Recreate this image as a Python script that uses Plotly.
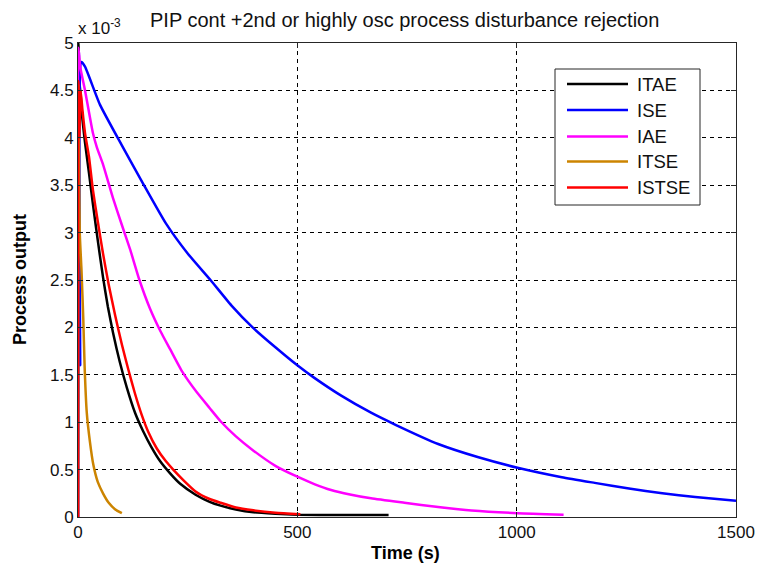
import plotly.graph_objects as go

# ---- data (process output in units of 1e-3) ----
series_names = ["ITAE", "ISE", "IAE", "ITSE", "ISTSE"]
series_colors = ["#000000", "#0000ff", "#ff00ff", "#cc8400", "#ff0000"]

t_itae = [0, 1, 3, 6, 10, 16, 25, 34, 45, 57, 68, 80, 95, 111, 130, 148, 167, 187, 210, 233,
          268, 300, 325, 360, 400, 450, 500, 600, 708]
y_itae = [0, 5.0, 4.6, 4.45, 4.2, 3.95, 3.63, 3.3, 2.92, 2.53, 2.22, 1.94, 1.64, 1.37, 1.1, 0.91,
          0.74, 0.59, 0.46, 0.35, 0.235, 0.16, 0.12, 0.08, 0.05, 0.035, 0.025, 0.02, 0.02]

t_ise = [0, 2, 5, 8, 16, 50, 100, 148, 200, 250, 302, 350, 398, 450, 500, 538, 600, 668, 725,
         821, 913, 1002, 1103, 1178, 1256, 1332, 1407, 1500]
y_ise = [0, 4.9, 1.6, 4.8, 4.75, 4.35, 3.92, 3.52, 3.1, 2.78, 2.5, 2.23, 2.0, 1.79, 1.6, 1.47,
         1.28, 1.1, 0.97, 0.77, 0.63, 0.52, 0.42, 0.36, 0.3, 0.25, 0.21, 0.17]

t_iae = [0, 1, 5, 16, 34, 43, 57, 80, 100, 119, 140, 164, 188, 210, 238, 270, 300, 325, 360,
         400, 450, 500, 540, 577, 620, 668, 744, 821, 897, 1002, 1107]
y_iae = [0, 4.95, 4.75, 4.5, 4.05, 3.9, 3.72, 3.36, 3.08, 2.82, 2.5, 2.2, 1.96, 1.77, 1.53, 1.32,
         1.15, 1.01, 0.85, 0.7, 0.54, 0.425, 0.345, 0.285, 0.238, 0.197, 0.15, 0.105, 0.068,
         0.04, 0.025]

t_itse = [0, 1, 2, 4, 8, 12, 15, 20, 27, 35, 45, 57, 70, 85, 100]
y_itse = [0, 4.55, 4.0, 3.0, 2.6, 2.1, 1.6, 1.1, 0.8, 0.55, 0.37, 0.25, 0.15, 0.08, 0.04]

t_istse = [0, 1, 3, 6, 10, 16, 25, 34, 45, 57, 70, 85, 100, 115, 130, 145, 160, 180, 200, 217,
           240, 268, 300, 325, 360, 400, 450, 507]
y_istse = [0, 4.6, 4.0, 4.5, 4.3, 4.05, 3.8, 3.45, 3.12, 2.78, 2.45, 2.12, 1.82, 1.55, 1.3, 1.08,
           0.9, 0.72, 0.59, 0.5, 0.39, 0.27, 0.19, 0.15, 0.1, 0.07, 0.045, 0.03]

series_t = [t_itae, t_ise, t_iae, t_itse, t_istse]
series_y = [y_itae, y_ise, y_iae, y_itse, y_istse]

x_ticks = [0, 500, 1000, 1500]
y_ticks = [0, 0.5, 1, 1.5, 2, 2.5, 3, 3.5, 4, 4.5, 5]

title_text = "PIP cont +2nd or highly osc process disturbance rejection"
x_title = "Time (s)"
y_title = "Process output"
exponent_text = "x 10<sup>-3</sup>"

# ---- layout geometry (pixels) ----
W, H = 758, 564
L, R, T, B = 78, 22, 43, 47
PW = W - L - R
PH = H - T - B

def px_x(px):
    return (px - L) / PW

def px_y(py):
    return (H - B - py) / PH

FONT = "Liberation Sans, Arial, sans-serif"
TXT = "#111111"

fig = go.Figure()
for name, color, tt, yy in zip(series_names, series_colors, series_t, series_y):
    fig.add_trace(go.Scatter(x=tt, y=yy, mode="lines", name=name,
                             line=dict(color=color, width=2.5, shape="spline", smoothing=0.5),
                             showlegend=False))

axis_common = dict(
    showline=True, linecolor="#262626", linewidth=1, mirror="allticks",
    ticks="inside", ticklen=5, tickcolor="#262626", tickwidth=1,
    showgrid=True, gridcolor="#000000", gridwidth=1, griddash="4px,4px",
    zeroline=False, tickfont=dict(family=FONT, size=17, color=TXT),
    automargin=False, ticklabeloverflow="allow",
)
fig.update_xaxes(range=[0, 1500], tickvals=x_ticks, **axis_common)
fig.update_yaxes(range=[0, 5], tickvals=y_ticks, **axis_common)

shapes = []
annotations = []
# legend box
lx0, lx1, ly0, ly1 = 555, 700, 69, 205
shapes.append(dict(type="rect", xref="paper", yref="paper",
                   x0=px_x(lx0), x1=px_x(lx1), y0=px_y(ly1), y1=px_y(ly0),
                   line=dict(color="#262626", width=1), fillcolor="white", layer="above"))
row_y = [84, 110, 136.5, 161.5, 187.5]
for name, color, ry in zip(series_names, series_colors, row_y):
    shapes.append(dict(type="line", xref="paper", yref="paper",
                       x0=px_x(567), x1=px_x(628), y0=px_y(ry), y1=px_y(ry),
                       line=dict(color=color, width=2.5), layer="above"))
    annotations.append(dict(text=name, xref="paper", yref="paper", x=px_x(635), y=px_y(ry),
                            xanchor="left", yanchor="middle", showarrow=False,
                            font=dict(family=FONT, size=18.5, color=TXT)))

annotations.append(dict(text=exponent_text, xref="paper", yref="paper", x=px_x(76), y=px_y(27),
                        xanchor="left", yanchor="middle", showarrow=False,
                        font=dict(family=FONT, size=17, color=TXT)))
annotations.append(dict(text="<b>" + x_title + "</b>", xref="paper", yref="paper",
                        x=px_x(405), y=px_y(553), xanchor="center", yanchor="middle",
                        showarrow=False, font=dict(family=FONT, size=18, color="#000000")))
annotations.append(dict(text="<b>" + y_title + "</b>", xref="paper", yref="paper",
                        x=px_x(20), y=px_y(280), xanchor="center", yanchor="middle",
                        textangle=-90, showarrow=False,
                        font=dict(family=FONT, size=18, color="#000000")))
annotations.append(dict(text=title_text, xref="paper", yref="paper",
                        x=px_x(404), y=px_y(20), xanchor="center", yanchor="middle",
                        showarrow=False, font=dict(family=FONT, size=20, color=TXT)))

fig.update_layout(
    width=W, height=H, autosize=False, margin=dict(l=L, r=R, t=T, b=B, pad=0, autoexpand=False),
    paper_bgcolor="white", plot_bgcolor="white",
    showlegend=False, shapes=shapes, annotations=annotations,
    font=dict(family=FONT, size=17, color=TXT),
)

fig.write_html(
    "out.html",
    config={"displayModeBar": False, "responsive": False},
    post_script=("document.documentElement.style.overflow='hidden';"
                 "document.body.style.overflow='hidden';"
                 "document.body.style.margin='0px';"),
)
